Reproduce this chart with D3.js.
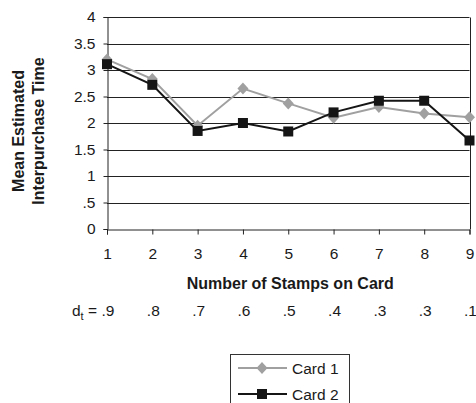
<!DOCTYPE html>
<html>
<head>
<meta charset="utf-8">
<script src="https://cdn.jsdelivr.net/npm/d3@7"></script>
<style>
  body { margin: 0; background: #fff; }
  svg { display: block; font-family: "Liberation Sans", Arial, sans-serif; }
</style>
</head>
<body>
<div id="chart"></div>
<script>
// data
var stamps = [1, 2, 3, 4, 5, 6, 7, 8, 9];
var card1 = [3.2, 2.83, 1.95, 2.65, 2.37, 2.1, 2.3, 2.18, 2.11];
var card2 = [3.11, 2.72, 1.85, 2.0, 1.84, 2.2, 2.42, 2.42, 1.67];
var dtLabels = [".9", ".8", ".7", ".6", ".5", ".4", ".3", ".3", ".1"];
var yTicks = [0, 0.5, 1, 1.5, 2, 2.5, 3, 3.5, 4];
var seriesNames = ["Card 1", "Card 2"];

var width = 476, height = 403;
var plotLeft = 107, plotRight = 469.5, plotTop = 17, plotBottom = 229;
var fs = "15.5px", titleFs = "16px";

var svg = d3.select("#chart").append("svg")
    .attr("width", width)
    .attr("height", height);

var x = d3.scaleLinear().domain([1, 9]).range([plotLeft, plotRight]);
var y = d3.scaleLinear().domain([0, 4]).range([plotBottom, plotTop]);

function fmt(v) {
    if (v === 0) return "0";
    if (v === 0.5) return ".5";
    return String(v);
}

// gridlines
svg.append("g").selectAll("line")
    .data(yTicks.filter(function (d) { return d > 0; }))
    .enter().append("line")
    .attr("x1", plotLeft).attr("x2", plotRight)
    .attr("y1", function (d) { return Math.round(y(d)) + 0.5; })
    .attr("y2", function (d) { return Math.round(y(d)) + 0.5; })
    .attr("stroke", "#222")
    .attr("stroke-width", 1);

// right border
svg.append("line")
    .attr("x1", Math.round(plotRight) + 0.5).attr("x2", Math.round(plotRight) + 0.5)
    .attr("y1", Math.round(y(4)) + 0.5).attr("y2", Math.round(y(0)) + 0.5)
    .attr("stroke", "#222");

// y axis
var yAxis = d3.axisLeft(y).tickValues(yTicks).tickFormat(fmt).tickSize(4).tickPadding(8);
var gy = svg.append("g")
    .attr("transform", "translate(" + (Math.round(plotLeft) + 0.5) + ",0)")
    .call(yAxis);
gy.select(".domain").attr("stroke", "#222");
gy.selectAll(".tick line").attr("stroke", "#222");
gy.selectAll("text").style("font-size", fs).attr("fill", "#1a1a1a");

// x axis
var xAxis = d3.axisBottom(x).tickValues(stamps).tickFormat(d3.format("d")).tickSize(5).tickPadding(13);
var gx = svg.append("g")
    .attr("transform", "translate(0," + (Math.round(plotBottom) + 0.5) + ")")
    .call(xAxis);
gx.select(".domain").attr("stroke", "#222");
gx.selectAll(".tick line").attr("stroke", "#222");
gx.selectAll("text").style("font-size", fs).attr("fill", "#1a1a1a");

// axis titles
svg.append("text")
    .attr("x", (plotLeft + plotRight) / 2 + 2)
    .attr("y", 289)
    .attr("text-anchor", "middle")
    .style("font-size", titleFs)
    .style("font-weight", "bold")
    .attr("fill", "#1a1a1a")
    .text("Number of Stamps on Card");

var yl = svg.append("text")
    .attr("transform", "translate(0,131) rotate(-90)")
    .attr("text-anchor", "middle")
    .style("font-size", titleFs)
    .style("font-weight", "bold")
    .attr("fill", "#1a1a1a");
yl.append("tspan").attr("x", 0).attr("y", 24).text("Mean Estimated");
yl.append("tspan").attr("x", 0).attr("y", 44).text("Interpurchase Time");

// d_t row
var dtY = 316;
var dtName = svg.append("text")
    .attr("x", x(stamps[0]) - 10)
    .attr("y", dtY)
    .attr("text-anchor", "end")
    .style("font-size", fs)
    .attr("fill", "#1a1a1a");
dtName.append("tspan").text("d");
dtName.append("tspan").attr("dy", 4).style("font-size", "11px").text("t");
dtName.append("tspan").attr("dy", -4).text(" =");

svg.append("g").selectAll("text")
    .data(dtLabels)
    .enter().append("text")
    .attr("x", function (d, i) { return x(stamps[i]) + 1; })
    .attr("y", dtY)
    .attr("text-anchor", "middle")
    .style("font-size", fs)
    .attr("fill", "#1a1a1a")
    .text(function (d) { return d; });

// lines and markers
var line = d3.line()
    .x(function (d, i) { return x(stamps[i]); })
    .y(function (d) { return y(d); });

var diamond = "M0,-6L5.5,0L0,6L-5.5,0Z";

svg.append("path").datum(card1)
    .attr("d", line)
    .attr("fill", "none")
    .attr("stroke", "#a0a0a0")
    .attr("stroke-width", 2);

svg.append("g").selectAll("path")
    .data(card1)
    .enter().append("path")
    .attr("d", diamond)
    .attr("transform", function (d, i) { return "translate(" + x(stamps[i]) + "," + y(d) + ")"; })
    .attr("fill", "#a0a0a0");

svg.append("path").datum(card2)
    .attr("d", line)
    .attr("fill", "none")
    .attr("stroke", "#151515")
    .attr("stroke-width", 2);

svg.append("g").selectAll("rect")
    .data(card2)
    .enter().append("rect")
    .attr("x", function (d, i) { return x(stamps[i]) - 5; })
    .attr("y", function (d) { return y(d) - 5; })
    .attr("width", 10)
    .attr("height", 10)
    .attr("fill", "#151515");

// legend
var lg = svg.append("g").attr("transform", "translate(230,354)");
lg.append("rect")
    .attr("x", 0.5).attr("y", 0.5)
    .attr("width", 119).attr("height", 70)
    .attr("fill", "#fff")
    .attr("stroke", "#333");

var rows = lg.selectAll("g.row")
    .data(seriesNames)
    .enter().append("g")
    .attr("class", "row")
    .attr("transform", function (d, i) { return "translate(0," + (14 + i * 26) + ")"; });

rows.append("line")
    .attr("x1", 8).attr("x2", 57)
    .attr("y1", 0).attr("y2", 0)
    .attr("stroke", function (d, i) { return i === 0 ? "#a0a0a0" : "#151515"; })
    .attr("stroke-width", 2);

rows.each(function (d, i) {
    var g = d3.select(this);
    if (i === 0) {
        g.append("path").attr("d", diamond).attr("transform", "translate(32,0)").attr("fill", "#a0a0a0");
    } else {
        g.append("rect").attr("x", 27).attr("y", -5).attr("width", 10).attr("height", 10).attr("fill", "#151515");
    }
});

rows.append("text")
    .attr("x", 62)
    .attr("y", 5.5)
    .style("font-size", fs)
    .attr("fill", "#1a1a1a")
    .text(function (d) { return d; });
</script>
</body>
</html>
